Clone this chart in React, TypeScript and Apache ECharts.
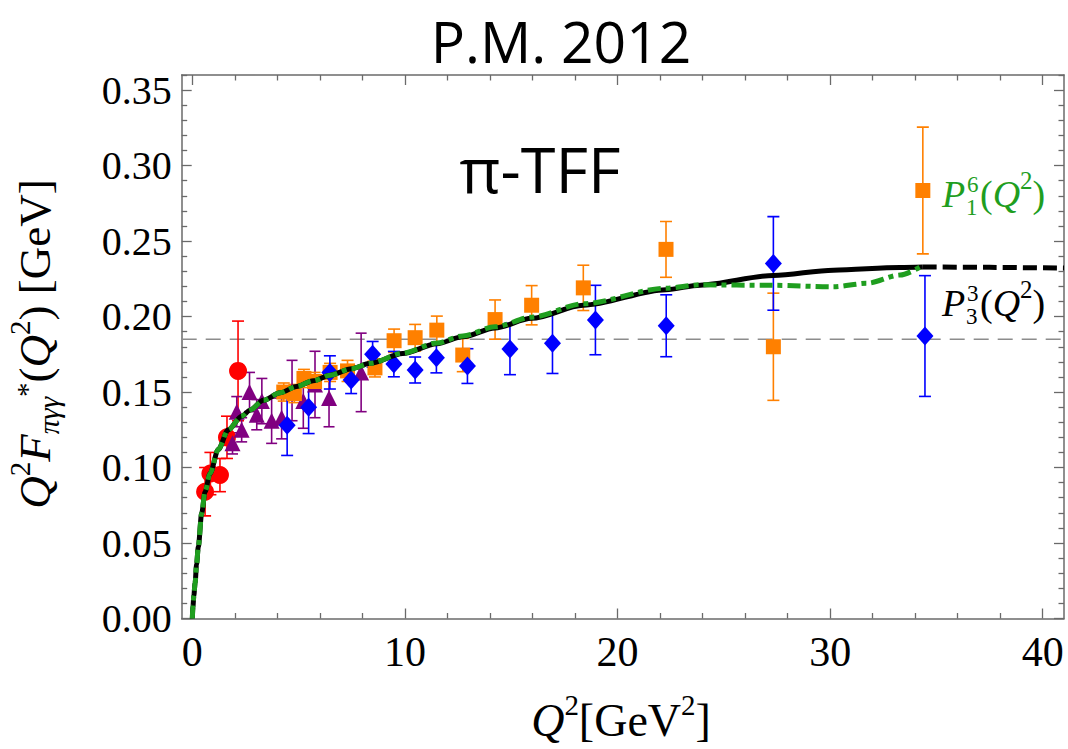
import React, { useEffect, useRef } from 'react';
import * as echarts from 'echarts';

// ---------- data ----------
// CELLO (red circles)
const celloQ2 = [0.6, 0.85, 1.3, 1.63, 2.15];
const celloVal = [0.084, 0.096, 0.095, 0.12, 0.164];
const celloErr = [0.016, 0.014, 0.011, 0.014, 0.033];

// CLEO (purple triangles)
const cleoQ2 = [1.89, 2.09, 2.32, 2.69, 3.03, 3.27, 3.73, 4.2, 4.69, 5.22, 5.77, 6.43, 7.94];
const cleoVal = [0.116, 0.137, 0.125, 0.15, 0.135, 0.144, 0.131, 0.133, 0.151, 0.144, 0.155, 0.146, 0.163];
const cleoErr = [0.007, 0.01, 0.008, 0.013, 0.01, 0.015, 0.015, 0.014, 0.02, 0.018, 0.022, 0.019, 0.026];

// BaBar (orange squares)
const babarQ2 = [4.3, 4.8, 5.25, 5.75, 6.48, 7.3, 8.59, 9.49, 10.48, 11.5, 12.72, 14.24, 15.96, 18.39, 22.28, 27.33, 34.36];
const babarVal = [0.15, 0.149, 0.159, 0.157, 0.163, 0.164, 0.166, 0.184, 0.186, 0.191, 0.1745, 0.198, 0.2075, 0.219, 0.2445, 0.18, 0.2835];
const babarErr = [0.006, 0.006, 0.006, 0.006, 0.006, 0.007, 0.006, 0.0077, 0.0088, 0.0093, 0.011, 0.013, 0.013, 0.015, 0.0185, 0.0355, 0.042];

// Belle (blue diamonds)
const belleQ2 = [4.46, 5.47, 6.47, 7.47, 8.48, 9.48, 10.48, 11.48, 12.94, 14.94, 16.94, 18.96, 22.29, 27.33, 34.46];
const belleVal = [0.128, 0.14, 0.163, 0.158, 0.175, 0.1685, 0.1646, 0.1727, 0.1672, 0.1785, 0.1823, 0.1977, 0.1939, 0.2352, 0.1871];
const belleErr = [0.02, 0.0175, 0.011, 0.009, 0.0085, 0.0084, 0.0086, 0.01, 0.0115, 0.017, 0.02, 0.023, 0.0205, 0.031, 0.04];

// P^3_3 approximant (black, solid up to the last datum, dashed beyond)
const p33Q2 = [0, 0.03, 0.07, 0.13, 0.2, 0.28, 0.44, 0.6, 0.83, 1.22, 1.69, 2.32, 2.71, 3.34, 4.13, 4.91, 5.69, 6.48, 7.5, 8.36, 9.9, 11.5, 12.72, 14.24, 15.96, 18.39, 22.28, 23.88, 27.33, 30.15, 33.29, 34.36];
const p33Val = [0, 0.008, 0.015, 0.0235, 0.036, 0.0475, 0.0697, 0.084, 0.096, 0.112, 0.125, 0.134, 0.138, 0.1445, 0.1495, 0.1537, 0.1575, 0.1612, 0.1655, 0.169, 0.1755, 0.182, 0.1866, 0.1925, 0.1988, 0.2075, 0.2178, 0.2208, 0.2272, 0.2307, 0.2325, 0.2328];
const p33TailQ2 = [34.36, 37.5, 41];
const p33TailVal = [0.2328, 0.2326, 0.2321];

// P^6_1 approximant (green dash-dot)
const p61Q2 = [0, 0.03, 0.07, 0.13, 0.2, 0.28, 0.44, 0.6, 0.83, 1.22, 1.69, 2.32, 2.71, 3.34, 4.13, 4.91, 5.69, 6.48, 7.5, 8.36, 9.9, 11.5, 12.72, 14.24, 15.96, 18.39, 22.28, 23.88, 27.33, 30.15, 31.72, 33.29, 34.31];
const p61Val = [0, 0.008, 0.015, 0.0235, 0.036, 0.0475, 0.0697, 0.084, 0.096, 0.112, 0.125, 0.134, 0.138, 0.1445, 0.1495, 0.1537, 0.1575, 0.1612, 0.1655, 0.169, 0.1758, 0.1825, 0.1872, 0.1932, 0.1996, 0.2085, 0.2188, 0.221, 0.2207, 0.2197, 0.222, 0.2275, 0.2334];

// asymptotic reference line
const limitVal = 0.185;

// axes
const xMin = -0.5;
const xMax = 41;
const yMin = 0;
const yMax = 0.36;
const xMajorTicks = [0, 10, 20, 30, 40];
const xMinorTicks = [2, 4, 6, 8, 12, 14, 16, 18, 22, 24, 26, 28, 32, 34, 36, 38];
const yMajorTicks = [0, 0.05, 0.1, 0.15, 0.2, 0.25, 0.3, 0.35];
const yMinorTicks: number[] = [];
for (let k = 1; k <= 36; k++) if (k % 5 !== 0) yMinorTicks.push(k / 100);

const SERIF = "'Liberation Serif', 'DejaVu Serif', serif";
const SANS = "'Open Sans', 'Noto Sans', sans-serif";
const FRAME = '#6a6a6a';
const GREEN = '#1f9e1f';

function pairs(xs: number[], ys: number[]) {
  return xs.map((x, i) => [x, ys[i]]);
}

function errorSeries(q2: number[], val: number[], err: number[], color: string, capHalf: number) {
  return {
    type: 'custom',
    xAxisIndex: 0,
    yAxisIndex: 0,
    z: 2,
    silent: true,
    clip: true,
    data: q2.map((q, i) => [q, val[i] - err[i], val[i] + err[i]]),
    encode: { x: 0, y: [1, 2] },
    renderItem: (_params: any, api: any) => {
      const x = api.value(0);
      const lo = api.coord([x, api.value(1)]);
      const hi = api.coord([x, api.value(2)]);
      const st = { stroke: color, lineWidth: 1.6 };
      return {
        type: 'group',
        children: [
          { type: 'line', shape: { x1: lo[0], y1: lo[1], x2: hi[0], y2: hi[1] }, style: st },
          { type: 'line', shape: { x1: lo[0] - capHalf, y1: lo[1], x2: lo[0] + capHalf, y2: lo[1] }, style: st },
          { type: 'line', shape: { x1: hi[0] - capHalf, y1: hi[1], x2: hi[0] + capHalf, y2: hi[1] }, style: st },
        ],
      };
    },
  };
}

function scatterSeries(q2: number[], val: number[], symbol: string, size: any, color: string) {
  return {
    type: 'scatter',
    xAxisIndex: 0,
    yAxisIndex: 0,
    z: 3,
    silent: true,
    symbol,
    symbolSize: size,
    itemStyle: { color, opacity: 1 },
    data: pairs(q2, val),
  };
}

function xAxisDef(position: 'top' | 'bottom', ticks: number[], len: number, labels: boolean, line: boolean) {
  return {
    type: 'value',
    min: xMin,
    max: xMax,
    position,
    axisLine: { show: line, onZero: false, lineStyle: { color: FRAME, width: 1.5 } },
    axisTick: { show: true, inside: true, length: len, customValues: ticks, lineStyle: { color: FRAME, width: 1.3 } },
    axisLabel: labels
      ? { show: true, customValues: ticks, fontFamily: SERIF, fontSize: 42, color: '#000', margin: 12 }
      : { show: false },
    splitLine: { show: false },
  };
}

function yAxisDef(position: 'left' | 'right', ticks: number[], len: number, labels: boolean, line: boolean) {
  return {
    type: 'value',
    min: yMin,
    max: yMax,
    position,
    axisLine: { show: line, onZero: false, lineStyle: { color: FRAME, width: 1.5 } },
    axisTick: { show: true, inside: true, length: len, customValues: ticks, lineStyle: { color: FRAME, width: 1.3 } },
    axisLabel: labels
      ? {
          show: true,
          customValues: ticks,
          fontFamily: SERIF,
          fontSize: 40,
          color: '#000',
          margin: 10,
          formatter: (v: number) => v.toFixed(2),
        }
      : { show: false },
    splitLine: { show: false },
  };
}

export default function App() {
  const ref = useRef<HTMLDivElement>(null);

  useEffect(() => {
    if (!ref.current) return;
    const chart = echarts.init(ref.current, undefined, { renderer: 'svg' });

    const base = { fontFamily: SERIF, fontSize: 45, lineHeight: 45, verticalAlign: 'top', padding: [15, 0, 0, 0], fill: '#000' };
    const yNameRich = {
      i: { ...base, fontStyle: 'italic' },
      n: { ...base },
      s: { fontFamily: SERIF, fontSize: 29, lineHeight: 29, verticalAlign: 'top', padding: [8, 0, 0, 0], fill: '#000' },
      b: { fontFamily: SERIF, fontStyle: 'italic', fontSize: 29, lineHeight: 29, verticalAlign: 'top', padding: [37, 0, 0, 0], fill: '#000' },
      a: { fontFamily: SERIF, fontSize: 29, lineHeight: 29, verticalAlign: 'top', padding: [15, 0, 0, 0], fill: '#000' },
    };
    const xBase = { fontFamily: SERIF, fontSize: 46, lineHeight: 46, verticalAlign: 'top', padding: [14, 0, 0, 0], fill: '#000' };
    const xNameRich = {
      i: { ...xBase, fontStyle: 'italic' },
      n: { ...xBase },
      s: { fontFamily: SERIF, fontSize: 29, lineHeight: 29, verticalAlign: 'top', padding: [7, 0, 0, 0], fill: '#000' },
    };
    const legBase = (c: string) => ({ fontFamily: SERIF, fontSize: 38, lineHeight: 38, verticalAlign: 'top', padding: [10, 0, 0, 0], fill: c });
    const legRich = (c: string) => ({
      i: { ...legBase(c), fontStyle: 'italic' },
      n: { ...legBase(c) },
      s: { fontFamily: SERIF, fontSize: 25, lineHeight: 25, verticalAlign: 'top', padding: [3, 0, 0, 0], fill: c },
    });

    const legend = (c: string, cy: number, sup: string, sub: string) => [
      { type: 'text', x: 942, y: cy, silent: true, style: { text: 'P', fontFamily: SERIF, fontStyle: 'italic', fontSize: 38, fill: c, align: 'left', verticalAlign: 'middle' } },
      { type: 'text', x: 967, y: cy - 10, silent: true, style: { text: sup, fontFamily: SERIF, fontSize: 23, lineHeight: 23, fill: c, align: 'left', verticalAlign: 'middle' } },
      { type: 'text', x: 966, y: cy + 13, silent: true, style: { text: sub, fontFamily: SERIF, fontSize: 23, lineHeight: 23, fill: c, align: 'left', verticalAlign: 'middle' } },
      { type: 'text', x: 980, y: cy - 29, silent: true, style: { text: '{n|(}{i|Q}{s|2}{n|)}', rich: legRich(c), align: 'left', verticalAlign: 'top' } },
    ];

    const option: any = {
      animation: false,
      backgroundColor: '#ffffff',
      grid: { left: 181.7, right: 4, top: 75, bottom: 130.5, containLabel: false },
      xAxis: [
        xAxisDef('bottom', xMajorTicks, 10, true, true),
        xAxisDef('bottom', xMinorTicks, 5.5, false, false),
        xAxisDef('top', xMajorTicks, 10, false, true),
        xAxisDef('top', xMinorTicks, 5.5, false, false),
      ],
      yAxis: [
        yAxisDef('left', yMajorTicks, 10, true, true),
        yAxisDef('left', yMinorTicks, 5.5, false, false),
        yAxisDef('right', yMajorTicks, 10, false, true),
        yAxisDef('right', yMinorTicks, 5.5, false, false),
      ],
      series: [
        {
          type: 'line',
          xAxisIndex: 0,
          yAxisIndex: 0,
          z: 1,
          silent: true,
          symbol: 'none',
          data: [[xMin, limitVal], [xMax, limitVal]],
          lineStyle: { color: '#8c8c8c', width: 1.5, type: [15, 9] },
        },
        errorSeries(celloQ2, celloVal, celloErr, '#ff0000', 6),
        errorSeries(cleoQ2, cleoVal, cleoErr, '#800080', 5.5),
        errorSeries(babarQ2, babarVal, babarErr, '#ff8000', 6),
        errorSeries(belleQ2, belleVal, belleErr, '#0000ff', 6),
        scatterSeries(celloQ2, celloVal, 'circle', 18, '#ff0000'),
        scatterSeries(cleoQ2, cleoVal, 'triangle', 16, '#800080'),
        scatterSeries(babarQ2, babarVal, 'rect', 15, '#ff8000'),
        scatterSeries(belleQ2, belleVal, 'diamond', [17, 19], '#0000ff'),
        {
          type: 'line',
          xAxisIndex: 0,
          yAxisIndex: 0,
          z: 4,
          silent: true,
          symbol: 'none',
          smooth: 0.3,
          smoothMonotone: 'x',
          data: pairs(p33Q2, p33Val),
          lineStyle: { color: '#000', width: 5 },
        },
        {
          type: 'line',
          xAxisIndex: 0,
          yAxisIndex: 0,
          z: 4,
          silent: true,
          symbol: 'none',
          data: pairs(p33TailQ2, p33TailVal),
          smooth: 0.3,
          lineStyle: { color: '#000', width: 5, type: [14, 6] },
        },
        {
          type: 'line',
          xAxisIndex: 0,
          yAxisIndex: 0,
          z: 5,
          silent: true,
          symbol: 'none',
          smooth: 0.3,
          smoothMonotone: 'x',
          data: pairs(p61Q2, p61Val),
          lineStyle: { color: GREEN, width: 5, type: [13, 5, 5, 5] },
        },
      ],
      graphic: [
        {
          type: 'text',
          x: 561,
          y: 41,
          silent: true,
          style: { text: 'P.M. 2012', fontFamily: SANS, fontSize: 57, fill: '#000', align: 'center', verticalAlign: 'middle' },
        },
        {
          type: 'text',
          x: 540,
          y: 168,
          silent: true,
          style: { text: 'π-TFF', fontFamily: SANS, fontSize: 63, fill: '#000', align: 'center', verticalAlign: 'middle' },
        },
        {
          type: 'text',
          x: -3,
          y: 344,
          rotation: Math.PI / 2,
          silent: true,
          style: {
            text: '{i|Q}{s|2}{i|F}{b|πγγ}{a|*}{n|(}{i|Q}{s|2}{n|) [GeV]}',
            rich: yNameRich,
            align: 'center',
            verticalAlign: 'top',
          },
        },
        {
          type: 'text',
          x: 621,
          y: 683,
          silent: true,
          style: {
            text: '{i|Q}{s|2}{n|[GeV}{s|2}{n|]}',
            rich: xNameRich,
            align: 'center',
            verticalAlign: 'top',
          },
        },
        ...legend(GREEN, 194, '6', '1'),
        ...legend('#000', 303, '3', '3'),
      ],
    };

    chart.setOption(option);
    return () => chart.dispose();
  }, []);

  return (
    <div
      ref={ref}
      style={{ position: 'fixed', left: 0, top: 0, width: '1068px', height: '749px', background: '#fff' }}
    />
  );
}
